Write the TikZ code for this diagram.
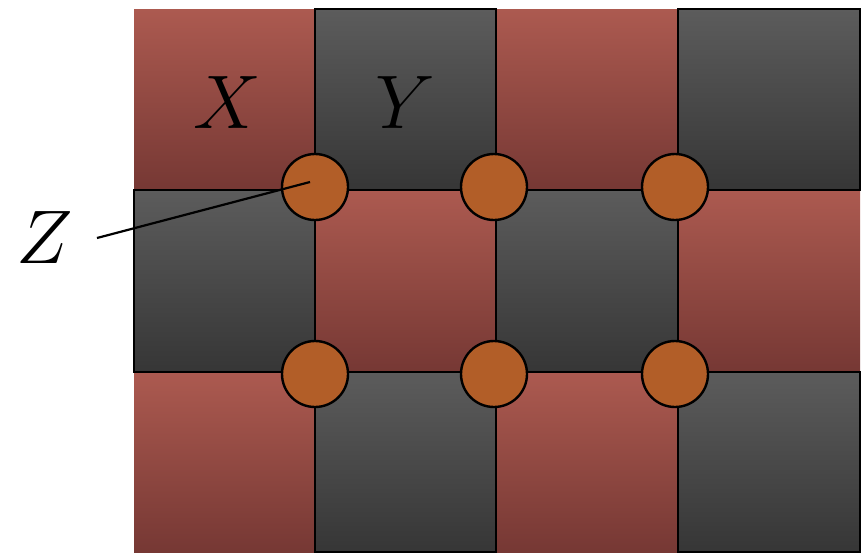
\documentclass[tikz,border=0pt]{standalone}
\usepackage{fix-cm}
\definecolor{redtop}{RGB}{172,90,80}
\definecolor{redbot}{RGB}{118,56,52}
\definecolor{graytop}{RGB}{92,92,92}
\definecolor{graybot}{RGB}{54,54,54}
\definecolor{knot}{RGB}{178,94,40}
\tikzset{
  redsq/.style={top color=redtop, bottom color=redbot, draw=none},
  graysq/.style={top color=graytop, bottom color=graybot, draw=black, line width=2.2pt},
  knotc/.style={circle, fill=knot, draw=black, line width=2.4pt, minimum size=66pt, inner sep=0pt},
  biglab/.style={font=\fontsize{76}{80}\selectfont, inner sep=0pt},
  leader/.style={draw=black, line width=2.2pt}
}
\begin{document}
\begin{tikzpicture}[x=1pt,y=-1pt]
\useasboundingbox (0,0) rectangle (862,552);
% row 1
\shade[redsq]  (134,9) rectangle (315,190);
\shade[redsq]  (496,9) rectangle (678,190);
% row 2
\shade[redsq]  (315,190) rectangle (496,372);
\shade[redsq]  (678,190) rectangle (860,372);
% row 3
\shade[redsq]  (134,372) rectangle (315,552);
\shade[redsq]  (496,372) rectangle (678,552);
% gray squares
\shade[graysq] (315,9) rectangle (496,190);
\shade[graysq] (678,9) rectangle (860,190);
\shade[graysq] (134,190) rectangle (315,372);
\shade[graysq] (496,190) rectangle (678,372);
\shade[graysq] (315,372) rectangle (496,552);
\shade[graysq] (678,372) rectangle (860,552);
% labels
\node[biglab] (xlab) at (227,103) {$X$};
\node[biglab] (ylab) at (405,103) {$Y$};
\node[biglab] (zlab) at (45,238) {$Z$};
% knots
\node[knotc] (k1) at (315,187) {};
\node[knotc] (k2) at (494,187) {};
\node[knotc] (k3) at (675,187) {};
\node[knotc] (k4) at (315,374) {};
\node[knotc] (k5) at (494,374) {};
\node[knotc] (k6) at (675,374) {};
% leader line
\coordinate (zstart) at (97,238);
\coordinate (zend) at (310,182);
\draw[leader] (zstart) -- (zend);
\end{tikzpicture}
\end{document}
